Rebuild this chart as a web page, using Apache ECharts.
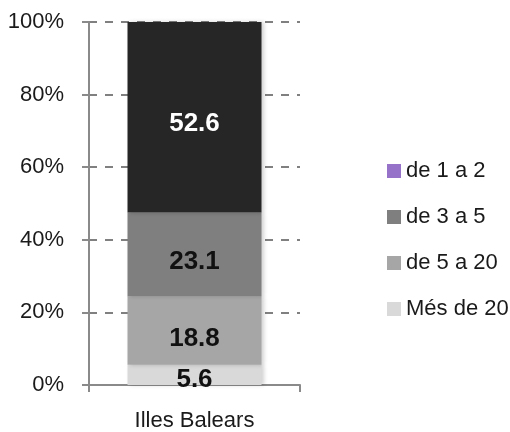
<!DOCTYPE html>
<html>
<head>
<meta charset="utf-8">
<script src="https://cdn.jsdelivr.net/npm/echarts@6/dist/echarts.min.js"></script>
<style>html,body{margin:0;padding:0;background:#fff}#c{width:510px;height:432px}</style>
</head>
<body>
<div id="c"></div>
<script>
var categories = ['Illes Balears'];
var seriesNames = ['de 1 a 2', 'de 3 a 5', 'de 5 a 20', 'Més de 20'];
var valMes20 = [5.6];
var val5a20 = [18.8];
var val3a5 = [23.1];
var val1a2 = [52.6];
var yTicks = [0, 20, 40, 60, 80, 100];

var FONT = '"Liberation Sans", Arial, sans-serif';
var chart = echarts.init(document.getElementById('c'), null, {renderer: 'canvas'});

function lab(color, dy) {
  return {show: true, position: 'inside', offset: [0, dy], color: color, fontFamily: FONT, fontWeight: 'bold', fontSize: 26,
          formatter: function (p) { return p.value.toFixed(1); }};
}
var shadow = {shadowColor: 'rgba(0,0,0,0.18)', shadowBlur: 4, shadowOffsetX: 2};

chart.setOption({
  animation: false,
  grid: {left: 89, top: 22, width: 211, height: 365, containLabel: false},
  legend: {
    orient: 'vertical', left: 387, top: 160, padding: 0, itemWidth: 14, itemHeight: 14, itemGap: 24,
    icon: 'rect', textStyle: {fontFamily: FONT, fontSize: 22, color: '#1a1a1a'},
    data: [
      {name: seriesNames[0], itemStyle: {color: '#9673c9'}},
      {name: seriesNames[1]},
      {name: seriesNames[2]},
      {name: seriesNames[3]}
    ]
  },
  xAxis: {
    type: 'category', data: categories,
    axisLine: {lineStyle: {color: '#8a8a8a', width: 2}},
    axisTick: {show: true, length: 7, lineStyle: {color: '#8a8a8a', width: 2}},
    axisLabel: {fontFamily: FONT, fontSize: 22, color: '#1a1a1a', margin: 25}
  },
  yAxis: {
    type: 'value', min: yTicks[0], max: yTicks[yTicks.length - 1], interval: 20,
    axisLine: {show: true, lineStyle: {color: '#8a8a8a', width: 2}},
    axisTick: {show: true, length: 7, lineStyle: {color: '#8a8a8a', width: 2}},
    axisLabel: {fontFamily: FONT, fontSize: 22, color: '#1a1a1a', margin: 25, formatter: '{value}%'},
    splitLine: {show: true, lineStyle: {color: '#808080', width: 2, type: [8, 8]}}
  },
  series: [
    {name: seriesNames[3], type: 'bar', stack: 's', barWidth: 134, data: valMes20,
     itemStyle: Object.assign({color: '#d9d9d9'}, shadow), label: lab('#111', 5)},
    {name: seriesNames[2], type: 'bar', stack: 's', data: val5a20,
     itemStyle: Object.assign({color: '#a6a6a6'}, shadow), label: lab('#111', 8)},
    {name: seriesNames[1], type: 'bar', stack: 's', data: val3a5,
     itemStyle: Object.assign({color: '#7f7f7f'}, shadow), label: lab('#111', 7)},
    {name: seriesNames[0], type: 'bar', stack: 's', data: val1a2,
     itemStyle: Object.assign({color: '#262626'}, shadow), label: lab('#ffffff', 7)}
  ]
});
</script>
</body>
</html>
